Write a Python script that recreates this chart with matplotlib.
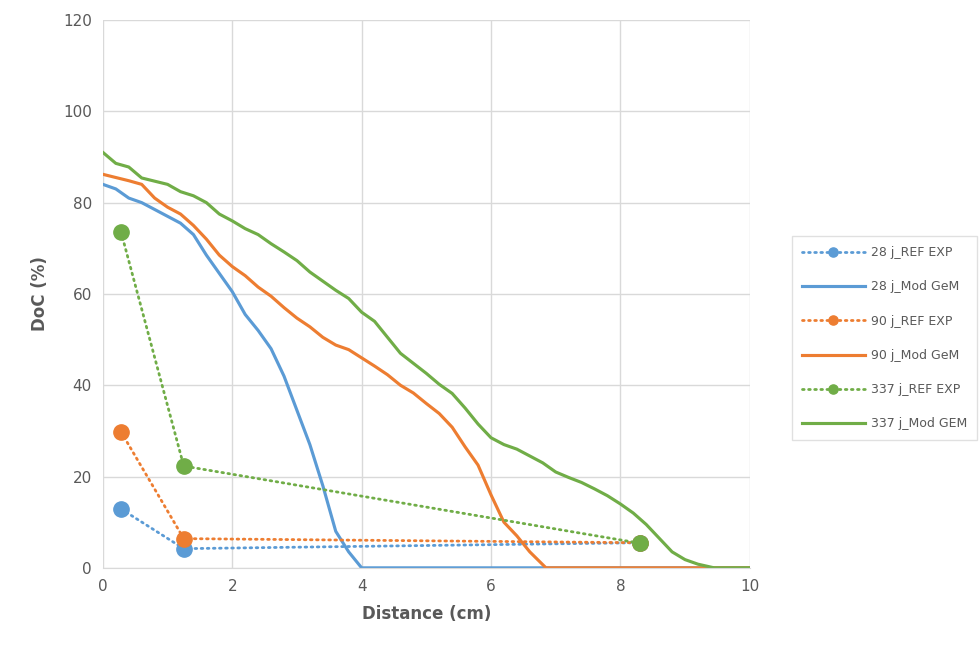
import matplotlib.pyplot as plt

# Experimental reference points (distance in cm, DoC in %)
ref_x = [0.28, 1.25, 8.3]
ref_28 = [12.9, 4.2, 5.5]
ref_90 = [29.8, 6.4, 5.5]
ref_337 = [73.6, 22.3, 5.4]

# GeM model curves
mod28_x = [0, 0.2, 0.4, 0.6, 0.8, 1.0, 1.2, 1.4, 1.6, 1.8, 2.0, 2.2, 2.4, 2.6,
           2.8, 3.0, 3.2, 3.4, 3.6, 3.8, 4.0, 10]
mod28_y = [84, 83, 81, 80, 78.5, 77, 75.5, 73, 68.5, 64.5, 60.5, 55.5, 52, 48,
           42, 34.5, 27, 18, 8, 3.5, 0, 0]

mod90_x = [0, 0.2, 0.4, 0.6, 0.8, 1.0, 1.2, 1.4, 1.6, 1.8, 2.0, 2.2, 2.4, 2.6,
           2.8, 3.0, 3.2, 3.4, 3.6, 3.8, 4.0, 4.2, 4.4, 4.6, 4.8, 5.0, 5.2,
           5.4, 5.6, 5.8, 6.0, 6.2, 6.4, 6.6, 6.85, 10]
mod90_y = [86.2, 85.5, 84.8, 84, 81, 79, 77.5, 75, 72, 68.5, 66, 64, 61.5,
           59.5, 57, 54.7, 52.8, 50.5, 48.8, 47.8, 46, 44.2, 42.3, 40, 38.3,
           36, 33.8, 30.8, 26.5, 22.5, 16, 10, 7, 3.5, 0, 0]

mod337_x = [0, 0.2, 0.4, 0.6, 0.8, 1.0, 1.2, 1.4, 1.6, 1.8, 2.0, 2.2, 2.4,
            2.6, 2.8, 3.0, 3.2, 3.4, 3.6, 3.8, 4.0, 4.2, 4.4, 4.6, 4.8, 5.0,
            5.2, 5.4, 5.6, 5.8, 6.0, 6.2, 6.4, 6.6, 6.8, 7.0, 7.2, 7.4, 7.6,
            7.8, 8.0, 8.2, 8.4, 8.6, 8.8, 9.0, 9.2, 9.45, 10]
mod337_y = [91, 88.6, 87.8, 85.4, 84.7, 84, 82.4, 81.5, 80, 77.5, 76, 74.3,
            73, 71, 69.2, 67.3, 64.8, 62.8, 60.8, 59, 56, 54, 50.5, 47, 44.8,
            42.6, 40.2, 38.2, 35, 31.5, 28.5, 27, 26, 24.5, 23, 21, 19.8, 18.7,
            17.3, 15.8, 14, 12, 9.5, 6.5, 3.5, 1.8, 0.8, 0, 0]

blue = "#5B9BD5"
orange = "#ED7D31"
green = "#70AD47"
grey_text = "#595959"

fig = plt.figure(figsize=(9.8, 6.46), dpi=100)
ax = fig.add_axes([0.105, 0.121, 0.66, 0.848])

dot_style = dict(linestyle=(0, (0.6, 1.6)), dash_capstyle="round", lw=2.0,
                 marker="o", markersize=11)
line_style = dict(lw=2.25)

ax.plot(ref_x, ref_28, color=blue, label="28 j_REF EXP", **dot_style)
ax.plot(mod28_x, mod28_y, color=blue, label="28 j_Mod GeM", **line_style)
ax.plot(ref_x, ref_90, color=orange, label="90 j_REF EXP", **dot_style)
ax.plot(mod90_x, mod90_y, color=orange, label="90 j_Mod GeM", **line_style)
ax.plot(ref_x, ref_337, color=green, label="337 j_REF EXP", **dot_style)
ax.plot(mod337_x, mod337_y, color=green, label="337 j_Mod GEM", **line_style)

ax.set_xlim(0, 10)
ax.set_ylim(0, 120)
ax.set_xticks([0, 2, 4, 6, 8, 10])
ax.set_yticks([0, 20, 40, 60, 80, 100, 120])
ax.grid(True, color="#d9d9d9", lw=1)
ax.set_axisbelow(True)
for side in ["top", "right", "left"]:
    ax.spines[side].set_visible(False)
ax.spines["bottom"].set_color("#d9d9d9")
ax.tick_params(length=0, labelsize=11, colors=grey_text, pad=8)

ax.set_xlabel("Distance (cm)", fontsize=12, fontweight="bold", color=grey_text, labelpad=8)
ax.set_ylabel("DoC (%)", fontsize=12, fontweight="bold", color=grey_text, labelpad=10)

leg = fig.legend(loc="upper left", bbox_to_anchor=(0.802, 0.644),
                 bbox_transform=fig.transFigure, fontsize=9, labelspacing=1.7,
                 handlelength=5.0, handletextpad=0.5, frameon=True, fancybox=False,
                 borderpad=0.8, labelcolor=grey_text, markerscale=0.6)
leg.get_frame().set_edgecolor("#d9d9d9")

fig.savefig("out.png", dpi=100)
